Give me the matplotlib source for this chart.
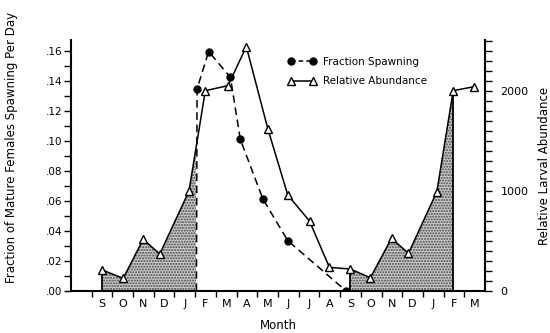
import matplotlib
matplotlib.use("Agg")
import matplotlib.pyplot as plt
from matplotlib.patches import Rectangle
from matplotlib.ticker import MultipleLocator, FixedLocator, FixedFormatter, NullFormatter

plt.rcParams["font.family"] = ["DejaVu Sans"]

# month axis: 0 = start of August, labels sit mid-month
month_labels = ["S", "O", "N", "D", "J", "F", "M", "A", "M", "J",
                "J", "A", "S", "O", "N", "D", "J", "F", "M"]
month_pos = [1.5 + i for i in range(len(month_labels))]

# relative larval abundance (right axis)
abund_x = [1.51, 2.52, 3.49, 4.29, 5.70, 6.49, 7.58, 8.47, 9.51, 10.47,
           11.52, 12.48, 13.49, 14.46, 15.48, 16.30, 17.67, 18.46, 19.47]
abund_y = [210, 127, 517, 370, 1000, 2003, 2053, 2443, 1620, 960,
           700, 237, 220, 133, 527, 377, 993, 2003, 2043]

# fraction of mature females spawning per day (left axis)
spawn_x = [6.06, 6.09, 6.65, 7.70, 8.18, 9.27, 10.47, 13.29]
spawn_y = [0.0, 0.1347, 0.1596, 0.1424, 0.101, 0.0613, 0.0336, 0.0]

# shaded spawning seasons (x ranges)
season1 = (1.51, 6.06)
season2 = (13.49, 18.46)

fig = plt.figure(figsize=(5.5, 3.33), dpi=100)
ax = fig.add_axes([0.129, 0.126, 0.753, 0.754])
ax2 = ax.twinx()

ax.set_xlim(0, 20)
ax.set_ylim(0, 0.1673)
ax2.set_ylim(0, 2510)

# shaded areas under abundance curve, clipped to seasons
for (x0, x1) in (season1, season2):
    fb = ax2.fill_between(abund_x, abund_y, 0, facecolor="#cccccc",
                          edgecolor="#444444", hatch="......", linewidth=0, zorder=1)
    clip = Rectangle((x0, 0), x1 - x0, 3000, transform=ax2.transData)
    fb.set_clip_path(clip)
# vertical edges of the shaded areas
ax2.plot([abund_x[0], abund_x[0]], [0, abund_y[0]], color="black", lw=1.3, zorder=2)
ax2.plot([abund_x[12], abund_x[12]], [0, abund_y[12]], color="black", lw=1.3, zorder=2)
ax2.plot([abund_x[17], abund_x[17]], [0, abund_y[17]], color="black", lw=1.3, zorder=2)

l2, = ax2.plot(abund_x, abund_y, color="black", lw=1.1, marker="^", ms=6,
               mfc="white", mec="black", mew=1.0, zorder=4, label="Relative Abundance")
l1, = ax2.plot([], [], color="black", lw=1.1, ls=(0, (3, 2)), marker="o", ms=5,
               mfc="black", label="Fraction Spawning")
ax.plot(spawn_x, spawn_y, color="black", lw=1.1, ls=(0, (5, 3)), marker="o", ms=5,
        mfc="black", mec="black", markevery=list(range(1, len(spawn_x))), zorder=5)
ax.set_zorder(ax2.get_zorder() + 1)
ax.patch.set_visible(False)

# spines
for a in (ax, ax2):
    a.spines["top"].set_visible(False)
ax.spines["right"].set_visible(False)
ax.spines["left"].set_linewidth(1.5)
ax.spines["bottom"].set_linewidth(1.5)
ax2.spines["right"].set_linewidth(1.5)
ax2.spines["left"].set_visible(False)
ax2.spines["bottom"].set_visible(False)

# x ticks at month boundaries, labels mid-month
ax.xaxis.set_major_locator(FixedLocator(list(range(1, 20))))
ax.xaxis.set_major_formatter(NullFormatter())
ax.xaxis.set_minor_locator(FixedLocator(month_pos))
ax.xaxis.set_minor_formatter(FixedFormatter(month_labels))
ax.tick_params(axis="x", which="major", direction="out", length=4, width=1)
ax.tick_params(axis="x", which="minor", length=0, pad=6, labelsize=8)

ax.yaxis.set_major_locator(MultipleLocator(0.02))
ax.yaxis.set_minor_locator(MultipleLocator(0.01))
ax.set_yticklabels([("%.2f" % v).lstrip("0") for v in ax.get_yticks()])
ax.tick_params(axis="y", which="both", direction="out", length=5, width=1, labelsize=7.5, pad=1)

ax2.yaxis.set_major_locator(MultipleLocator(1000))
ax2.yaxis.set_minor_locator(MultipleLocator(100))
ax2.tick_params(axis="y", which="both", direction="out", length=5, width=1, labelsize=8, pad=6)

ax.set_xlabel("Month", fontsize=8.5, labelpad=7)
ax.set_ylabel("Fraction of Mature Females Spawning Per Day", fontsize=8.5)
ax.yaxis.set_label_coords(-0.128, 0.57)
ax2.set_ylabel("Relative Larval Abundance", fontsize=8.5, labelpad=7)

ax.legend([l1, l2], ["Fraction Spawning", "Relative Abundance"], loc="upper left",
          bbox_to_anchor=(0.5, 0.97), frameon=False, fontsize=7.5, handlelength=2.8,
          numpoints=2, labelspacing=0.9, handletextpad=0.6)

fig.savefig("out.png", dpi=100)
